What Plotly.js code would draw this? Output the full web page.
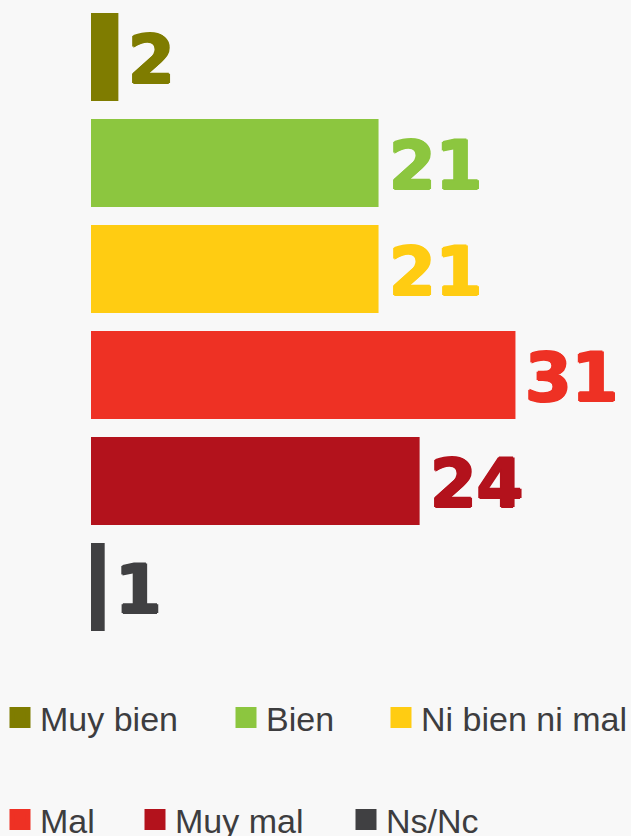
<!DOCTYPE html>
<html>
<head>
<meta charset="utf-8">
<script src="https://cdn.plot.ly/plotly-3.0.1.min.js"></script>
<style>html,body{margin:0;padding:0;background:#f8f8f8;}#chart{width:631px;height:836px;}</style>
</head>
<body>
<div id="chart"></div>
<script>
const categories = ["Muy bien", "Bien", "Ni bien ni mal", "Mal", "Muy mal", "Ns/Nc"];
const values = [2, 21, 21, 31, 24, 1];
const colors = ["#7f7c00", "#8cc63f", "#ffcc12", "#ee3124", "#b3121c", "#404042"];
// legend placement (container px) for each entry: two rows of three
const legendLeft = [13, 242, 397, 12, 151, 362];
const legendRow = [0, 0, 0, 1, 1, 1];

const W = 631, H = 836;
const rowCenters = [718, 820];

const legendKey = i => (i === 0 ? "legend" : "legend" + (i + 1));

const barTraces = categories.map((c, i) => ({
  type: "bar",
  orientation: "h",
  name: c,
  x: [values[i]],
  y: [c],
  marker: {color: colors[i]},
  hoverinfo: "x+y",
  showlegend: false
}));

// legend entries (same categories / colours, larger square swatches)
const legendTraces = categories.map((c, i) => ({
  type: "scatter",
  mode: "markers",
  name: c,
  x: [null],
  y: [null],
  marker: {symbol: "square", size: 20, color: colors[i], line: {width: 5, color: colors[i]}},
  legend: legendKey(i),
  showlegend: true,
  hoverinfo: "skip"
}));

const annotations = categories.map((c, i) => {
  const col = colors[i];
  return {
    x: values[i], y: c, xref: "x", yref: "y",
    text: String(values[i]),
    showarrow: false, xanchor: "left", yanchor: "middle",
    xshift: 8, yshift: -3,
    font: {family: "DejaVu Sans", size: 67, weight: 700, color: col,
           shadow: `1.3px 0 0 ${col}, -1.3px 0 0 ${col}, 0 1px 0 ${col}, 0 -1px 0 ${col}`}
  };
});

const layout = {
  width: W, height: H,
  paper_bgcolor: "#f8f8f8",
  plot_bgcolor: "rgba(0,0,0,0)",
  margin: {l: 91, r: 6, t: 4, b: 196, autoexpand: false},
  barmode: "overlay",
  bargap: 0.17,
  xaxis: {range: [0, 39], visible: false, fixedrange: true},
  yaxis: {type: "category", categoryorder: "array", categoryarray: categories,
          autorange: "reversed", visible: false, fixedrange: true},
  annotations: annotations,
  font: {family: "Liberation Sans, Arial, sans-serif"}
};

categories.forEach((c, i) => {
  layout[legendKey(i)] = {
    xref: "container", yref: "container",
    x: Math.max(0, (legendLeft[i] - 16) / W),
    y: 1 - rowCenters[legendRow[i]] / H,
    xanchor: "left", yanchor: "middle",
    bgcolor: "rgba(0,0,0,0)",
    borderwidth: 0,
    itemwidth: 30,
    font: {family: "Liberation Sans, Arial, sans-serif", size: 34, color: "#3d3d3f"}
  };
});

Plotly.newPlot("chart", barTraces.concat(legendTraces), layout, {displayModeBar: false, staticPlot: true});
</script>
</body>
</html>
